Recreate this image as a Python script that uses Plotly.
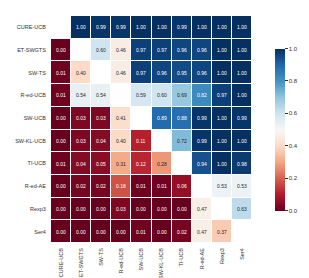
import plotly.graph_objects as go
from plotly.colors import diverging, sample_colorscale, unlabel_rgb

algos = ["CURE-UCB", "ET-SWGTS", "SW-TS", "R-ed-UCB", "SW-UCB",
         "SW-KL-UCB", "TI-UCB", "R-ed-AE", "Rexp3", "Ser4"]

N = None
row_cure = [N, 1.00, 0.99, 0.99, 1.00, 1.00, 0.99, 1.00, 1.00, 1.00]
row_etswgts = [0.00, N, 0.60, 0.46, 0.97, 0.97, 0.96, 0.96, 1.00, 1.00]
row_swts = [0.01, 0.40, N, 0.46, 0.97, 0.96, 0.95, 0.96, 1.00, 1.00]
row_reducb = [0.01, 0.54, 0.54, N, 0.59, 0.60, 0.69, 0.82, 0.97, 1.00]
row_swucb = [0.00, 0.03, 0.03, 0.41, N, 0.89, 0.88, 0.99, 1.00, 0.99]
row_swklucb = [0.00, 0.03, 0.04, 0.40, 0.11, N, 0.72, 0.99, 1.00, 1.00]
row_tiucb = [0.01, 0.04, 0.05, 0.31, 0.12, 0.28, N, 0.94, 1.00, 0.98]
row_redae = [0.00, 0.02, 0.02, 0.18, 0.01, 0.01, 0.06, N, 0.53, 0.53]
row_rexp3 = [0.00, 0.00, 0.00, 0.03, 0.00, 0.00, 0.00, 0.47, N, 0.63]
row_ser4 = [0.00, 0.00, 0.00, 0.00, 0.01, 0.00, 0.02, 0.47, 0.37, N]

z = [row_cure, row_etswgts, row_swts, row_reducb, row_swucb,
     row_swklucb, row_tiucb, row_redae, row_rexp3, row_ser4]

brewer = diverging.RdBu
n = len(brewer)
cscale = [[i / (n - 1), c] for i, c in enumerate(brewer)]


def rel_lum(rgb):
    vals = []
    for c in rgb:
        c = c / 255.0
        vals.append(c / 12.92 if c <= 0.03928 else ((c + 0.055) / 1.055) ** 2.4)
    return 0.2126 * vals[0] + 0.7152 * vals[1] + 0.0722 * vals[2]


fig = go.Figure()
fig.add_trace(go.Heatmap(
    z=z, x=algos, y=algos,
    colorscale=cscale, zmin=0, zmax=1,
    xgap=1, ygap=1, hoverongaps=False,
    colorbar=dict(
        x=1.066, xanchor="left", y=0.5, yanchor="middle", len=0.8,
        thickness=10, outlinewidth=0,
        tickvals=[0, 0.2, 0.4, 0.6, 0.8, 1.0],
        ticktext=["0.0", "0.2", "0.4", "0.6", "0.8", "1.0"],
        ticks="outside", ticklen=3, tickcolor="#333",
        tickfont=dict(size=6, color="#333", family="Liberation Sans"),
    ),
))

annotations = []
for i, row in enumerate(z):
    for j, v in enumerate(row):
        if v is None:
            continue
        col = sample_colorscale(cscale, [v])[0]
        lum = rel_lum(unlabel_rgb(col))
        tcol = "#262626" if lum > 0.408 else "white"
        annotations.append(dict(
            x=algos[j], y=algos[i], text=f"{v:.2f}", showarrow=False,
            font=dict(size=5, color=tcol, family="Liberation Sans"),
        ))

fig.update_layout(
    width=309, height=278,
    margin=dict(l=43, r=40, t=8, b=43),
    plot_bgcolor="white", paper_bgcolor="white",
    annotations=annotations,
    xaxis=dict(tickangle=-90, tickfont=dict(size=5.5, color="#333", family="Liberation Sans"),
               showgrid=False, zeroline=False, ticks="outside", ticklen=2,
               tickcolor="white", automargin=False),
    yaxis=dict(autorange="reversed", tickfont=dict(size=5.5, color="#333", family="Liberation Sans"),
               showgrid=False, zeroline=False, ticks="outside", ticklen=3,
               tickcolor="white", automargin=False),
)

fig.write_html("out.html")
